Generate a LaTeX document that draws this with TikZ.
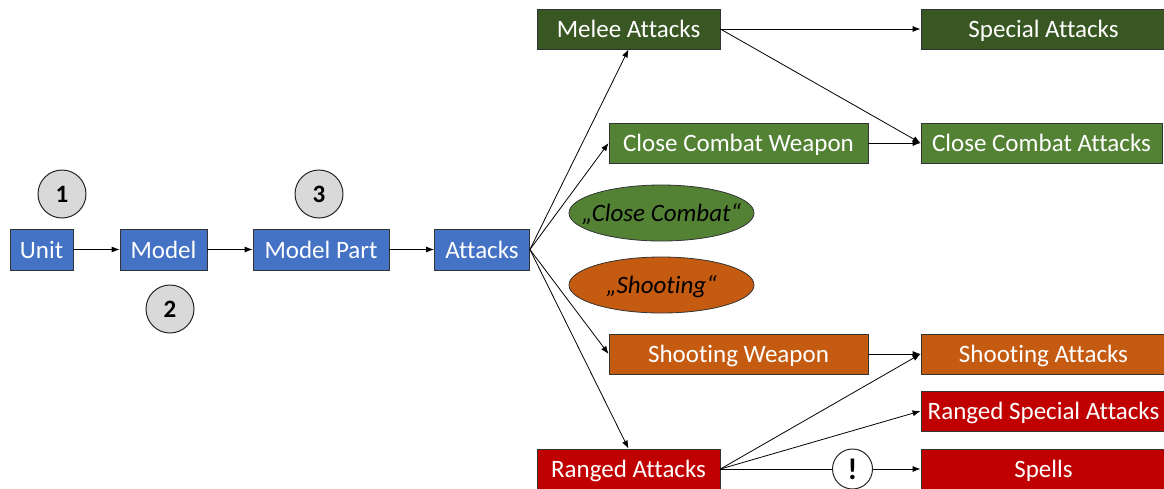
\documentclass[tikz,border=0pt]{standalone}
\usepackage{fontspec}
\setmainfont[Ligatures=NoCommon]{Carlito}
\usetikzlibrary{arrows.meta,shapes.geometric}

\definecolor{unitblue}{HTML}{4472C4}
\definecolor{meleegreen}{HTML}{385723}
\definecolor{combatgreen}{HTML}{548235}
\definecolor{shootorange}{HTML}{C55A11}
\definecolor{rangedred}{HTML}{C00000}
\definecolor{markgray}{HTML}{D9D9D9}

\begin{document}
\begin{tikzpicture}[
  x=1pt, y=-1pt,
  every node/.style = {font=\fontsize{25}{30}\selectfont, inner sep=0pt},
  every label/.style = {font=\fontsize{25}{30}\selectfont\itshape, text height=18pt, text depth=1pt},
  box/.style = {draw=black!80, line width=0.8pt, text=white, minimum height=40pt, text height=18pt, text depth=1pt},
  oval/.style = {ellipse, draw=black!80, line width=0.8pt, minimum width=185pt, minimum height=56pt},
  numbermark/.style = {circle, draw=black!85, line width=1pt, fill=markgray, minimum size=48pt, font=\fontsize{25}{30}\selectfont\bfseries},
  arr/.style = {line width=0.8pt, -{Latex[length=8pt,width=6pt]}}
]
\useasboundingbox (0,0) rectangle (1164,488);

\node[box, fill=unitblue, minimum width=63pt, minimum height=41pt] (unit) at (41.5,249.5) {Unit};
\node[box, fill=unitblue, minimum width=87pt, minimum height=41pt] (model) at (163.5,249.5) {Model};
\node[box, fill=unitblue, minimum width=136pt, minimum height=41pt] (part) at (321,249.5) {Model Part};
\node[box, fill=unitblue, minimum width=95pt, minimum height=41pt] (attacks) at (482,249.5) {Attacks};

\node[numbermark] (one) at (62,194) {1};
\node[numbermark] (two) at (170,309) {2};
\node[numbermark] (three) at (319,194) {3};

\node[box, fill=meleegreen, minimum width=183pt] (melee) at (628.5,29) {Melee Attacks};
\node[box, fill=meleegreen, minimum width=245pt] (special) at (1043.5,29) {Special Attacks};
\node[box, fill=combatgreen, minimum width=259pt] (ccweapon) at (738.5,143) {Close Combat Weapon};
\node[box, fill=combatgreen, minimum width=241pt] (ccattacks) at (1041.5,143) {Close Combat Attacks};

\node[oval, fill=combatgreen, label=center:„Close Combat“] (ccoval) at (661.5,213) {};
\node[oval, fill=shootorange, label=center:„Shooting“] (shootoval) at (661.5,285) {};

\node[box, fill=shootorange, minimum width=259pt] (shweapon) at (738.5,354) {Shooting Weapon};
\node[box, fill=shootorange, minimum width=245pt] (shattacks) at (1043.5,354) {Shooting Attacks};
\node[box, fill=rangedred, minimum width=245pt] (rspecial) at (1043.5,411) {Ranged Special Attacks};
\node[box, fill=rangedred, minimum width=183pt] (ranged) at (628.5,469) {Ranged Attacks};
\node[box, fill=rangedred, minimum width=245pt] (spells) at (1043.5,469) {Spells};

\node[circle, draw=black!85, line width=1pt, fill=white, minimum size=40pt, font=\fontsize{30}{30}\selectfont\bfseries] (warn) at (852.5,469) {!};

\draw[arr] (unit) -- (model);
\draw[arr] (model) -- (part);
\draw[arr] (part) -- (attacks);

\draw[arr] (attacks.east) -- (melee.south);
\draw[arr] (attacks.east) -- (ccweapon.west);
\draw[arr] (attacks.east) -- (shweapon.west);
\draw[arr] (attacks.east) -- (ranged.north);

\draw[arr] (melee.east) -- (special.west);
\draw[arr] (melee.east) -- (ccattacks.west);
\draw[arr] (ccweapon) -- (ccattacks);
\draw[arr] (shweapon) -- (shattacks);

\draw[arr] (ranged.east) -- (shattacks.west);
\draw[arr] (ranged.east) -- (rspecial.west);
\draw[line width=0.8pt] (ranged.east) -- (warn);
\draw[arr] (warn) -- (spells);
\end{tikzpicture}
\end{document}
